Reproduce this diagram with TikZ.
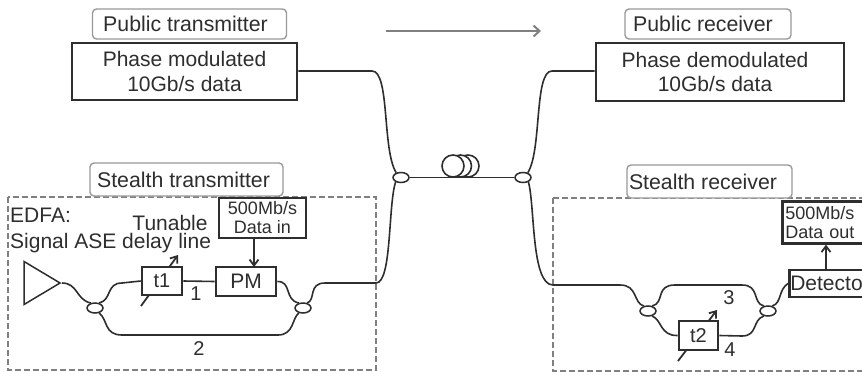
\documentclass[tikz,border=0pt]{standalone}
\usepackage{fontspec}
\setmainfont{Liberation Sans}
\usetikzlibrary{shapes.geometric,arrows.meta}
\definecolor{inkc}{HTML}{2E2E2E}
\tikzset{
  fibre/.style={draw=inkc,line width=1.6pt},
  sig/.style={draw=inkc,line width=1.8pt,-{Straight Barb[length=6pt,width=9pt]}},
  tag/.style={draw=gray!80,line width=1.4pt,rounded corners=4pt,fill=white,text=inkc,inner sep=0pt,font=\fontsize{21.3}{24}\selectfont},
  bigbox/.style={draw=inkc,line width=2.6pt,fill=white,text=inkc,inner sep=0pt,align=center,font=\fontsize{21}{24.5}\selectfont},
  smallbox/.style={draw=inkc,line width=2.6pt,fill=white,text=inkc,inner sep=0pt,align=center,font=\fontsize{18}{19}\selectfont},
  cpl/.style={ellipse,draw=inkc,line width=1.5pt,fill=white,minimum width=16pt,minimum height=10pt,inner sep=0pt},
  zone/.style={draw=gray,line width=1.4pt,dash pattern=on 6pt off 3pt},
  lbl/.style={text=inkc,inner sep=0pt,font=\fontsize{20}{23}\selectfont},
}
\begin{document}
\begin{tikzpicture}[x=1pt,y=-1pt]
        \clip (0,0) rectangle (862,372);
        \fill[white] (0,0) rectangle (862,372);
        \draw[zone] (8,197) rectangle (376,370);
        \draw[zone] (553,198) -- (553,371) -- (870,371);
        \draw[zone] (553,198) -- (870,198);

        \node[tag,minimum width=194pt,minimum height=30pt] (a1) at (189.5,24){Public transmitter\hspace*{8pt}};
        \node[tag,minimum width=166pt,minimum height=30pt] (a2) at (708,24){Public receiver\hspace*{10pt}};
        \node[tag,minimum width=193pt,minimum height=33pt] (a3) at (186.5,179.5){Stealth transmitter\hspace*{6pt}};
        \node[tag,minimum width=165pt,minimum height=33pt] (a4) at (709.5,181.5){Stealth receiver\hspace*{13pt}};

        \node[bigbox,minimum width=225pt,minimum height=57pt] (tx) at (184.5,71.5){Phase modulated\\10Gb/s data};
        \node[bigbox,minimum width=248pt,minimum height=58pt] (rx) at (720,72){Phase demodulated\hspace*{10pt}\\10Gb/s data\hspace*{10pt}};

        \coordinate (g1) at (386,31);
        \coordinate (g2) at (541,31);
        \draw[draw=gray,line width=2pt,-{Straight Barb[length=6pt,width=11pt]}] (g1) -- (g2);

        \node[cpl] (c1) at (401,177.5){};
        \node[cpl] (c2) at (523,177.5){};
        \node[cpl] (c3) at (95,308){};
        \node[cpl] (c4) at (303,308){};
        \node[cpl] (c5) at (648,311){};
        \node[cpl] (c6) at (768,311){};

        \draw[fibre] (c1) -- (c2);
        \foreach \cx in {468,460.5,453} {
          \draw[fibre,fill=white] (\cx,166) circle (11);
        }

        \draw[fibre] (tx.east |- 0,71) -- (372,71) .. controls (390,71) and (382,150) .. (c1.135);
        \draw[fibre] (rx.west |- 0,71) -- (552,71) .. controls (534,71) and (542,150) .. (c2.45);

        \coordinate (j1) at (376,283);
        \coordinate (j2) at (553,285);
        \draw[fibre] (c1.220) .. controls (388,205) and (392,283) .. (j1) -- (325,283) .. controls (308,283) and (316,300) .. (c4.50);
        \draw[fibre] (c2.320) .. controls (535,205) and (531,285) .. (j2) -- (620,285) .. controls (638,285) and (633,303) .. (c5.130);

        % stealth transmitter
        \node[isosceles triangle,isosceles triangle stretches,draw=inkc,line width=1.5pt,inner sep=0pt,minimum width=43pt,minimum height=36pt,anchor=apex] (amp) at (62,283){};
        \node[lbl,font=\fontsize{21}{24}\selectfont,anchor=west] (e1) at (10,215){EDFA:};
        \node[lbl,font=\fontsize{21}{24}\selectfont,anchor=west] (e2) at (10,243){Signal ASE delay line};
        \node[lbl,font=\fontsize{21}{24}\selectfont] (e3) at (170,223){Tunable};

        \coordinate (s1) at (141,306);
        \coordinate (s2) at (178,255);
        \draw[sig] (s1) -- (s2);
        \node[smallbox,minimum width=40pt,minimum height=28pt,font=\fontsize{20}{22}\selectfont] (t1) at (162,281){t1};
        \node[smallbox,minimum width=60pt,minimum height=29pt,font=\fontsize{21}{23}\selectfont] (pm) at (246,281.5){PM};
        \node[smallbox,minimum width=87pt,minimum height=40pt] (d1) at (262.5,218){500Mb/s\\Data in};
        \coordinate (s3) at (254,267);
        \draw[sig] (d1.south -| s3) -- (s3);

        \draw[fibre] (amp.apex) .. controls (78,283) and (76,300) .. (c3.130);
        \draw[fibre] (c3.50) .. controls (112,300) and (106,283) .. (122,283) -- (t1.west);
        \draw[fibre] (t1.east) -- (pm.west);
        \draw[fibre] (pm.east) .. controls (292,281) and (284,300) .. (c4.130);
        \draw[fibre] (c3.310) .. controls (108,320) and (104,335) .. (122,335) -- (278,335) .. controls (294,335) and (292,318) .. (c4.230);
        \node[lbl] (n1) at (196,294){1};
        \node[lbl] (n2) at (199,349){2};

        % stealth receiver
        \coordinate (s4) at (678,361);
        \coordinate (s5) at (717,310);
        \draw[sig] (s4) -- (s5);
        \node[smallbox,minimum width=39pt,minimum height=29pt,font=\fontsize{20}{22}\selectfont] (t2) at (698.5,335.5){t2};
        \node[smallbox,anchor=west,minimum height=27pt,minimum width=90pt,text width=88pt,align=left,font=\fontsize{21}{23}\selectfont] (det) at (788,283.5){Detector};
        \node[smallbox,anchor=north west,minimum height=42pt,minimum width=100pt,text width=94pt,align=left] (d2) at (781,200){500Mb/s\\Data out};
        \coordinate (s6) at (826,270);
        \draw[sig] (s6) -- (d2.south -| s6);

        \draw[fibre] (c5.50) .. controls (665,303) and (655,285) .. (675,285) -- (742,285) .. controls (760,285) and (752,303) .. (c6.130);
        \draw[fibre] (c5.310) .. controls (662,320) and (660,336) .. (t2.west);
        \draw[fibre] (t2.east) -- (742,336) .. controls (758,336) and (752,320) .. (c6.230);
        \draw[fibre] (c6.50) .. controls (782,303) and (778,290) .. (det.west);
        \node[lbl] (n3) at (729,298){3};
        \node[lbl] (n4) at (730,350){4};
\end{tikzpicture}
\end{document}
